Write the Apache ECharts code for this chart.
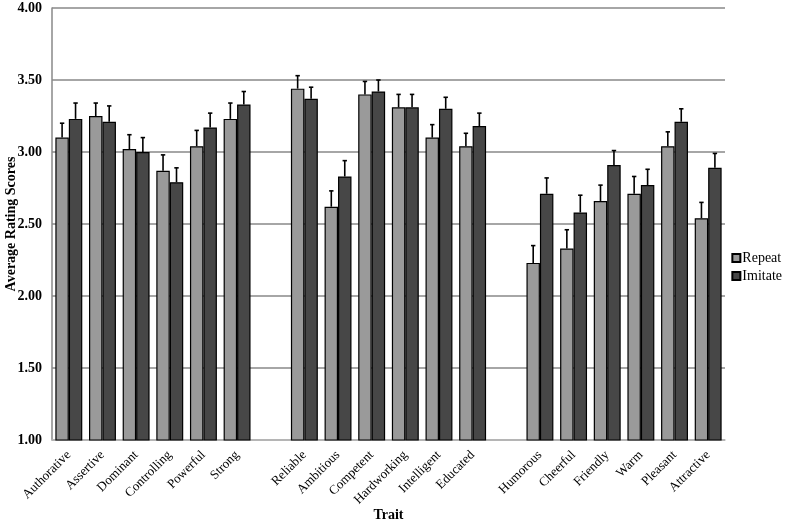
<!DOCTYPE html>
<html><head><meta charset="utf-8">
<script src="https://cdn.jsdelivr.net/npm/echarts@6/dist/echarts.min.js"></script>
<style>html,body{margin:0;padding:0;background:#fff}#c{width:787px;height:526px}</style>
</head><body><div id="c"></div>
<script>
const categories = ['Authorative','Assertive','Dominant','Controlling','Powerful','Strong','',
  'Reliable','Ambitious','Competent','Hardworking','Intelligent','Educated','',
  'Humorous','Cheerful','Friendly','Warm','Pleasant','Attractive'];
const repeatValues = [3.10,3.25,3.02,2.87,3.04,3.23,'-',3.44,2.62,3.40,3.31,3.10,3.04,'-',2.23,2.33,2.66,2.71,3.04,2.54];
const imitateValues = [3.23,3.21,3.00,2.79,3.17,3.33,'-',3.37,2.83,3.42,3.31,3.30,3.18,'-',2.71,2.58,2.91,2.77,3.21,2.89];
const repeatErrors = [0.10,0.09,0.10,0.11,0.11,0.11,'-',0.09,0.11,0.09,0.09,0.09,0.09,'-',0.12,0.13,0.11,0.12,0.10,0.11];
const imitateErrors = [0.11,0.11,0.10,0.10,0.10,0.09,'-',0.08,0.11,0.08,0.09,0.08,0.09,'-',0.11,0.12,0.10,0.11,0.09,0.10];
const yTicks = ['1.00','1.50','2.00','2.50','3.00','3.50','4.00'];

const font = 'Liberation Serif';
function errSeries(name, vals, errs, sign){
  const data = vals.map((v,i)=> v==='-' ? null : [i, v, v+errs[i]]).filter(d=>d);
  return {
    type:'custom', name: name+'_err', silent:true, z:5,
    data: data,
    encode:{x:0, y:[1,2]},
    renderItem:function(params, api){
      const band = api.size([1,0])[0];
      const off = sign*band*0.2;
      const p0 = api.coord([api.value(0), api.value(1)]);
      const p1 = api.coord([api.value(0), api.value(2)]);
      const x = p0[0]+off;
      return {type:'group', children:[
        {type:'line', shape:{x1:x,y1:p0[1],x2:x,y2:p1[1]}, style:{stroke:'#000',lineWidth:1.6}},
        {type:'line', shape:{x1:x-2.2,y1:p1[1],x2:x+2.2,y2:p1[1]}, style:{stroke:'#000',lineWidth:1.6}}
      ]};
    }
  };
}
const chart = echarts.init(document.getElementById('c'));
chart.setOption({
  animation:false,
  backgroundColor:'#fff',
  grid:{left:52,right:62,top:8,bottom:86,containLabel:false,outerBoundsMode:'none'},
  legend:{
    orient:'vertical', right:0, top:246, itemWidth:8, itemHeight:8, itemGap:4,
    icon:'rect',
    data:['Repeat','Imitate'],
    textStyle:{fontFamily:font,fontSize:14,color:'#000',padding:[0,0,0,-3]}
  },
  xAxis:{
    type:'category', data:categories,
    axisTick:{show:false},
    axisLine:{lineStyle:{color:'#bbb',width:1.5}},
    axisLabel:{rotate:45, interval:0, fontFamily:font, fontSize:13, color:'#000', margin:13},
    name:'Trait', nameLocation:'middle', nameGap:68, nameMoveOverlap:false,
    nameTextStyle:{fontFamily:font,fontSize:14,fontWeight:'bold',color:'#000'}
  },
  yAxis:{
    type:'value', min:1, max:4, interval:0.5,
    axisLine:{show:true,lineStyle:{color:'#888',width:1.5}},
    axisTick:{show:false},
    splitLine:{lineStyle:{color:'#888',width:1.5}},
    axisLabel:{fontFamily:font,fontSize:14,fontWeight:'bold',color:'#000',margin:10,
      formatter:function(v){ return yTicks[Math.round((v-1)/0.5)]; }},
    name:'Average Rating Scores', nameLocation:'middle', nameRotate:90, nameGap:34, nameMoveOverlap:false,
    nameTextStyle:{fontFamily:font,fontSize:14,fontWeight:'bold',color:'#000'}
  },
  series:[
    {type:'bar', name:'Repeat', data:repeatValues, barWidth:'40%', barGap:'0%',
      itemStyle:{color:'#9a9a9a', borderColor:'#000', borderWidth:1.2}},
    {type:'bar', name:'Imitate', data:imitateValues, barWidth:'40%', barGap:'0%',
      itemStyle:{color:'#474747', borderColor:'#000', borderWidth:1.2}},
    errSeries('Repeat', repeatValues, repeatErrors, -1),
    errSeries('Imitate', imitateValues, imitateErrors, 1)
  ]
});
</script></body></html>
